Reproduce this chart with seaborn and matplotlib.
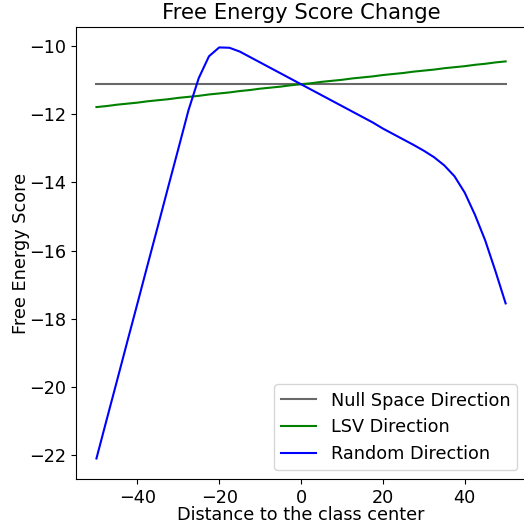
import matplotlib
matplotlib.use("Agg")
import matplotlib.pyplot as plt
import seaborn as sns
import pandas as pd

plt.rcParams["font.size"] = 12.7

distance = [-50, -47.5, -45, -42.5, -40, -37.5, -35, -32.5, -30, -27.5,
            -25, -22.5, -20, -17.5, -15, -12.5, -10, -7.5, -5, -2.5,
            0, 2.5, 5, 7.5, 10, 12.5, 15, 17.5, 20, 22.5,
            25, 27.5, 30, 32.5, 35, 37.5, 40, 42.5, 45, 47.5, 50]

null_space = [-11.12] * len(distance)

lsv = [-11.79, -11.76, -11.72, -11.69, -11.66, -11.62, -11.59, -11.56, -11.52, -11.49,
       -11.46, -11.42, -11.39, -11.36, -11.32, -11.29, -11.25, -11.22, -11.19, -11.15,
       -11.12, -11.09, -11.05, -11.02, -10.99, -10.95, -10.92, -10.89, -10.85, -10.82,
       -10.79, -10.75, -10.72, -10.69, -10.65, -10.62, -10.59, -10.55, -10.52, -10.48,
       -10.45]

random_dir = [-22.10, -20.96, -19.83, -18.69, -17.56, -16.42, -15.29, -14.15, -13.02, -11.88,
              -10.94, -10.30, -10.04, -10.05, -10.16, -10.32, -10.48, -10.64, -10.80, -10.96,
              -11.12, -11.28, -11.44, -11.60, -11.76, -11.92, -12.08, -12.24, -12.42, -12.58,
              -12.74, -12.90, -13.07, -13.26, -13.50, -13.82, -14.30, -14.95, -15.70, -16.60,
              -17.55]

df = pd.DataFrame({"distance": distance, "null": null_space,
                   "lsv": lsv, "random": random_dir})

fig, ax = plt.subplots(figsize=(5.24, 5.27), dpi=100)
sns.lineplot(data=df, x="distance", y="null", ax=ax, color="dimgray",
             label="Null Space Direction", linewidth=1.5)
sns.lineplot(data=df, x="distance", y="lsv", ax=ax, color="green",
             label="LSV Direction", linewidth=1.5)
sns.lineplot(data=df, x="distance", y="random", ax=ax, color="blue",
             label="Random Direction", linewidth=1.5)

ax.set_title("Free Energy Score Change")
ax.set_xlabel("Distance to the class center", labelpad=-0.5)
ax.set_ylabel("Free Energy Score", labelpad=-0.5)
ax.legend(loc="lower right")
fig.subplots_adjust(left=0.145, right=1.004, top=0.949, bottom=0.091)
fig.savefig("out.png", dpi=100)
